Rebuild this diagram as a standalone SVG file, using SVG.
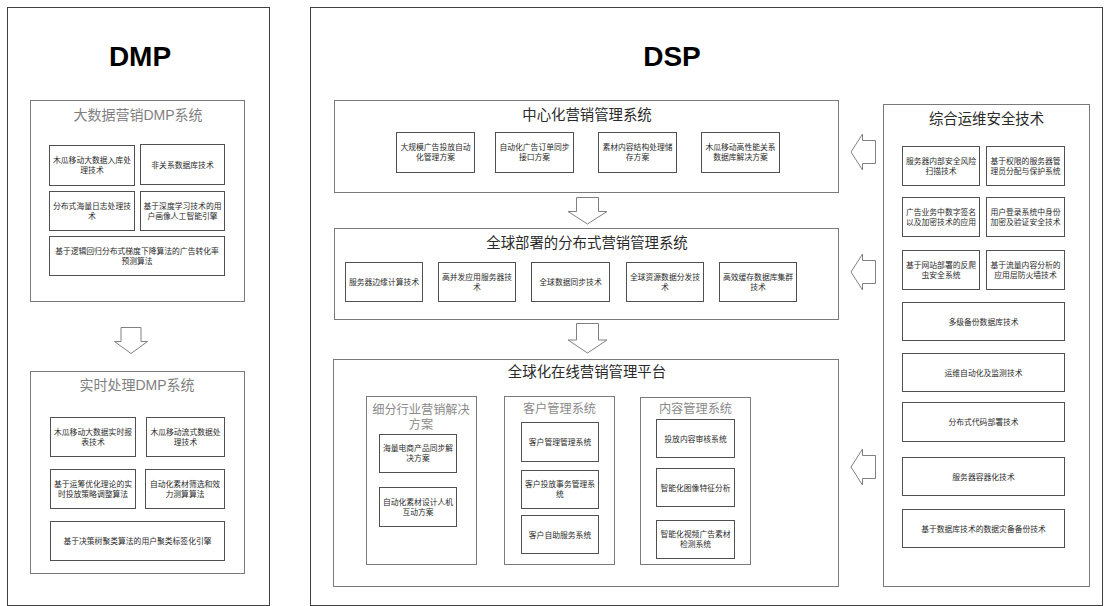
<svg xmlns="http://www.w3.org/2000/svg" width="1110" height="606" viewBox="0 0 1110 606">
<style>
.frame{fill:none;stroke:#404040;stroke-width:1}
.grp{fill:#fff;stroke:#7a7a7a;stroke-width:1}
.box{fill:#fff;stroke:#505050;stroke-width:1}
.arr{fill:#fff;stroke:#808080;stroke-width:1;stroke-linejoin:miter}
text{font-family:"Liberation Sans","Noto Sans CJK SC",sans-serif;text-anchor:middle}
.big{font-size:28px;font-weight:bold;fill:#000}
.t{font-size:7.8px;fill:#2a2a2a}
.gt{font-size:14px;fill:#7f7f7f}
.st{font-size:14.4px;fill:#2a2a2a}
.sub{font-size:12.2px;fill:#8a8a8a}
</style>
<rect width="1110" height="606" fill="#fff"/>

<g id="dmp-frame"><rect class="frame" x="7.5" y="7.5" width="262" height="598"/><text class="big" x="140" y="66">DMP</text></g>
<g id="dsp-frame"><rect class="frame" x="310.5" y="7.5" width="792" height="598"/><text class="big" x="672" y="66">DSP</text></g>

<g id="dmp-bigdata">
<rect class="grp" x="30.5" y="100.5" width="214" height="201"/>
<text class="gt" x="138" y="120">大数据营销DMP系统</text>
<rect class="box" x="49.5" y="145.5" width="85" height="40"/>
<text class="t" x="92" y="163">木瓜移动大数据入库处</text><text class="t" x="92" y="173">理技术</text>
<rect class="box" x="140.5" y="144.5" width="84" height="40"/>
<text class="t" x="182.5" y="167.5">非关系数据库技术</text>
<rect class="box" x="49.5" y="191.5" width="85" height="39"/>
<text class="t" x="92" y="208.5">分布式海量日志处理技</text><text class="t" x="92" y="218.5">术</text>
<rect class="box" x="140.5" y="191.5" width="84" height="39"/>
<text class="t" x="182.5" y="208.5">基于深度学习技术的用</text><text class="t" x="182.5" y="218.5">户画像人工智能引擎</text>
<rect class="box" x="49.5" y="236.5" width="175" height="39"/>
<text class="t" x="137" y="253.5">基于逻辑回归分布式梯度下降算法的广告转化率</text><text class="t" x="137" y="263.5">预测算法</text>
</g>

<g id="dmp-realtime">
<rect class="grp" x="30.5" y="371.5" width="214" height="202"/>
<text class="gt" x="137" y="390">实时处理DMP系统</text>
<rect class="box" x="50.5" y="417.5" width="85" height="39"/>
<text class="t" x="93" y="434.5">木瓜移动大数据实时报</text><text class="t" x="93" y="444.5">表技术</text>
<rect class="box" x="146.5" y="417.5" width="78" height="39"/>
<text class="t" x="185.5" y="434.5">木瓜移动流式数据处</text><text class="t" x="185.5" y="444.5">理技术</text>
<rect class="box" x="50.5" y="469.5" width="85" height="39"/>
<text class="t" x="93" y="486.5">基于运筹优化理论的实</text><text class="t" x="93" y="496.5">时投放策略调整算法</text>
<rect class="box" x="145.5" y="469.5" width="79" height="39"/>
<text class="t" x="185" y="486.5">自动化素材筛选和效</text><text class="t" x="185" y="496.5">力测算算法</text>
<rect class="box" x="50.5" y="521.5" width="174" height="39"/>
<text class="t" x="137.5" y="543.5">基于决策树聚类算法的用户聚类标签化引擎</text>
</g>

<g id="dsp-central">
<rect class="grp" x="334.5" y="100.5" width="504" height="92"/>
<text class="st" x="587" y="120">中心化营销管理系统</text>
<rect class="box" x="396.5" y="132.5" width="78" height="40"/>
<text class="t" x="435.5" y="150">大规模广告投放自动</text><text class="t" x="435.5" y="160">化管理方案</text>
<rect class="box" x="495.5" y="132.5" width="78" height="40"/>
<text class="t" x="534.5" y="150">自动化广告订单同步</text><text class="t" x="534.5" y="160">接口方案</text>
<rect class="box" x="598.5" y="132.5" width="78" height="40"/>
<text class="t" x="637.5" y="150">素材内容结构处理储</text><text class="t" x="637.5" y="160">存方案</text>
<rect class="box" x="701.5" y="132.5" width="78" height="40"/>
<text class="t" x="740.5" y="150">木瓜移动高性能关系</text><text class="t" x="740.5" y="160">数据库解决方案</text>
</g>

<g id="dsp-global">
<rect class="grp" x="334.5" y="228.5" width="504" height="91"/>
<text class="st" x="587" y="248">全球部署的分布式营销管理系统</text>
<rect class="box" x="345.5" y="262.5" width="77" height="39"/>
<text class="t" x="384" y="285">服务器边缘计算技术</text>
<rect class="box" x="438.5" y="262.5" width="77" height="39"/>
<text class="t" x="477" y="280">高并发应用服务器技</text><text class="t" x="477" y="290">术</text>
<rect class="box" x="531.5" y="262.5" width="78" height="39"/>
<text class="t" x="570.5" y="285">全球数据同步技术</text>
<rect class="box" x="626.5" y="262.5" width="77" height="39"/>
<text class="t" x="665" y="280">全球资源数据分发技</text><text class="t" x="665" y="290">术</text>
<rect class="box" x="719.5" y="262.5" width="77" height="39"/>
<text class="t" x="758" y="280">高效缓存数据库集群</text><text class="t" x="758" y="290">技术</text>
</g>

<g id="dsp-platform">
<rect class="grp" x="333.5" y="359.5" width="505" height="227"/>
<text class="st" x="587" y="377">全球化在线营销管理平台</text>
<g id="industry">
<rect class="grp" x="366.5" y="396.5" width="110" height="168"/>
<text class="sub" x="421" y="414">细分行业营销解决</text><text class="sub" x="421" y="429">方案</text>
<rect class="box" x="379.5" y="434.5" width="77" height="38"/>
<text class="t" x="418" y="451">海量电商产品同步解</text><text class="t" x="418" y="461">决方案</text>
<rect class="box" x="379.5" y="487.5" width="77" height="39"/>
<text class="t" x="418" y="504.5">自动化素材设计人机</text><text class="t" x="418" y="514.5">互动方案</text>
</g>
<g id="customer">
<rect class="grp" x="504.5" y="396.5" width="110" height="168"/>
<text class="sub" x="559.5" y="413">客户管理系统</text>
<rect class="box" x="521.5" y="422.5" width="77" height="39"/>
<text class="t" x="560" y="445">客户管理管理系统</text>
<rect class="box" x="521.5" y="470.5" width="77" height="38"/>
<text class="t" x="560" y="487">客户投放事务管理系</text><text class="t" x="560" y="497">统</text>
<rect class="box" x="521.5" y="515.5" width="77" height="38"/>
<text class="t" x="560" y="537.5">客户自助服务系统</text>
</g>
<g id="content">
<rect class="grp" x="640.5" y="397.5" width="110" height="167"/>
<text class="sub" x="695.5" y="413">内容管理系统</text>
<rect class="box" x="656.5" y="419.5" width="78" height="38"/>
<text class="t" x="695.5" y="441.5">投放内容审核系统</text>
<rect class="box" x="656.5" y="468.5" width="78" height="38"/>
<text class="t" x="695.5" y="490.5">智能化图像特征分析</text>
<rect class="box" x="656.5" y="520.5" width="78" height="38"/>
<text class="t" x="695.5" y="537">智能化视频广告素材</text><text class="t" x="695.5" y="547">检测系统</text>
</g>
</g>

<g id="ops-security">
<rect class="grp" x="883.5" y="104.5" width="206" height="482"/>
<text class="st" x="986.5" y="124">综合运维安全技术</text>
<rect class="box" x="902.5" y="146.5" width="77" height="39"/>
<text class="t" x="941" y="163.5">服务器内部安全风险</text><text class="t" x="941" y="173.5">扫描技术</text>
<rect class="box" x="986.5" y="146.5" width="78" height="39"/>
<text class="t" x="1025.5" y="163.5">基于权限的服务器管</text><text class="t" x="1025.5" y="173.5">理员分配与保护系统</text>
<rect class="box" x="902.5" y="197.5" width="77" height="39"/>
<text class="t" x="941" y="214.5">广告业务中数字签名</text><text class="t" x="941" y="224.5">以及加密技术的应用</text>
<rect class="box" x="986.5" y="197.5" width="78" height="39"/>
<text class="t" x="1025.5" y="214.5">用户登录系统中身份</text><text class="t" x="1025.5" y="224.5">加密及验证安全技术</text>
<rect class="box" x="902.5" y="250.5" width="77" height="39"/>
<text class="t" x="941" y="267.5">基于网站部署的反爬</text><text class="t" x="941" y="277.5">虫安全系统</text>
<rect class="box" x="986.5" y="250.5" width="78" height="39"/>
<text class="t" x="1025.5" y="267.5">基于流量内容分析的</text><text class="t" x="1025.5" y="277.5">应用层防火墙技术</text>
<rect class="box" x="902.5" y="302.5" width="162" height="38"/>
<text class="t" x="983.5" y="324.5">多级备份数据库技术</text>
<rect class="box" x="902.5" y="353.5" width="162" height="38"/>
<text class="t" x="983.5" y="375.5">运维自动化及监测技术</text>
<rect class="box" x="902.5" y="402.5" width="162" height="39"/>
<text class="t" x="983.5" y="425">分布式代码部署技术</text>
<rect class="box" x="902.5" y="457.5" width="162" height="38"/>
<text class="t" x="983.5" y="479.5">服务器容器化技术</text>
<rect class="box" x="902.5" y="509.5" width="162" height="38"/>
<text class="t" x="983.5" y="531.5">基于数据库技术的数据灾备备份技术</text>
</g>

<g id="connectors">
<polygon class="arr" points="121,327.5 141,327.5 141,341.5 147.5,341.5 131,353.5 114.5,341.5 121,341.5"/>
<polygon class="arr" points="576.5,197.5 598.5,197.5 598.5,211.5 607,211.5 587.5,224 568,211.5 576.5,211.5"/>
<polygon class="arr" points="576.5,323.5 598.5,323.5 598.5,340 607,340 587.5,353 568,340 576.5,340"/>
<polygon class="arr" points="875.5,140.5 862.5,140.5 862.5,134 851,152 862.5,170 862.5,163.5 875.5,163.5"/>
<polygon class="arr" points="875.5,260.5 862.5,260.5 862.5,254 851,272 862.5,290 862.5,283.5 875.5,283.5"/>
<polygon class="arr" points="875.5,455.5 862.5,455.5 862.5,449 851,467 862.5,485 862.5,478.5 875.5,478.5"/>
</g>
</svg>
